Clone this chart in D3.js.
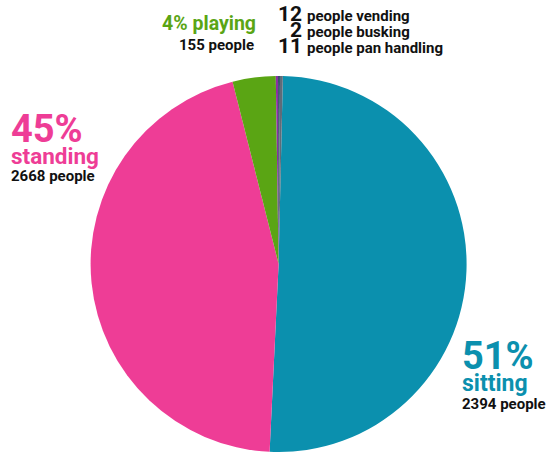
<!DOCTYPE html>
<html>
<head>
<meta charset="utf-8">
<script src="https://cdn.jsdelivr.net/npm/d3@7"></script>
<style>
  html, body { margin: 0; padding: 0; background: #fff; }
  svg { display: block; }
  text { font-family: Roboto, "Liberation Sans", Arial, sans-serif; font-weight: 700; }
</style>
</head>
<body>
<svg id="chart" width="548" height="452"></svg>
<script>
// ---- data ----
const categories = ["sitting", "standing", "playing", "vending", "busking", "pan handling"];
const shares = [50.4, 45.3, 3.7, 0.2, 0.15, 0.25];          // share of pie (%), as drawn
const people = [2394, 2668, 155, 12, 2, 11];                // people counts as labelled
const pctLabels = ["51%", "45%", "4%"];
const colors = ["#0b90ae", "#ee3d96", "#5aa514", "#8b2fa2", "#1e3b5b", "#5f6b79"];

const W = 548, H = 452;
const cx = 278.6, cy = 264, R = 188;
const startDeg = 1.3;

const svg = d3.select("#chart");
const g = svg.append("g").attr("transform", `translate(${cx},${cy})`);

const pie = d3.pie()
  .sort(null)
  .value((d, i) => shares[i])
  .startAngle(startDeg * Math.PI / 180)
  .endAngle((startDeg + 360) * Math.PI / 180);

const arc = d3.arc().innerRadius(0).outerRadius(R);

g.selectAll("path")
  .data(pie(categories))
  .join("path")
  .attr("d", arc)
  .attr("fill", (d, i) => colors[i]);

// ---- labels ----
const T = svg.append("g");

// standing
T.append("text").attr("x", 11).attr("y", 142).attr("font-size", 38).attr("fill", colors[1]).text(pctLabels[1]);
T.append("text").attr("x", 11).attr("y", 164).attr("font-size", 22.5).attr("fill", colors[1]).text(categories[1]);
T.append("text").attr("x", 11).attr("y", 181).attr("font-size", 15).attr("fill", "#111").text(`${people[1]} people`);

// sitting
T.append("text").attr("x", 462).attr("y", 369).attr("font-size", 38).attr("fill", colors[0]).text(pctLabels[0]);
T.append("text").attr("x", 462).attr("y", 391).attr("font-size", 23).attr("fill", colors[0]).text(categories[0]);
T.append("text").attr("x", 462).attr("y", 409).attr("font-size", 15).attr("fill", "#111").text(`${people[0]} people`);

// playing
T.append("text").attr("x", 256).attr("y", 30).attr("text-anchor", "end").attr("font-size", 19.5).attr("fill", colors[2]).text(`${pctLabels[2]} ${categories[2]}`);
T.append("text").attr("x", 254).attr("y", 50).attr("text-anchor", "end").attr("font-size", 15).attr("fill", "#111").text(`${people[2]} people`);

// small groups
const smallRows = [3, 4, 5];
smallRows.forEach((k, j) => {
  const y = 21 + j * 16;
  T.append("text").attr("x", 302).attr("y", y).attr("text-anchor", "end").attr("font-size", 21).attr("fill", "#111").text(people[k]);
  T.append("text").attr("x", 307).attr("y", y).attr("font-size", 15).attr("fill", "#111").text(`people ${categories[k]}`);
});
</script>
</body>
</html>
